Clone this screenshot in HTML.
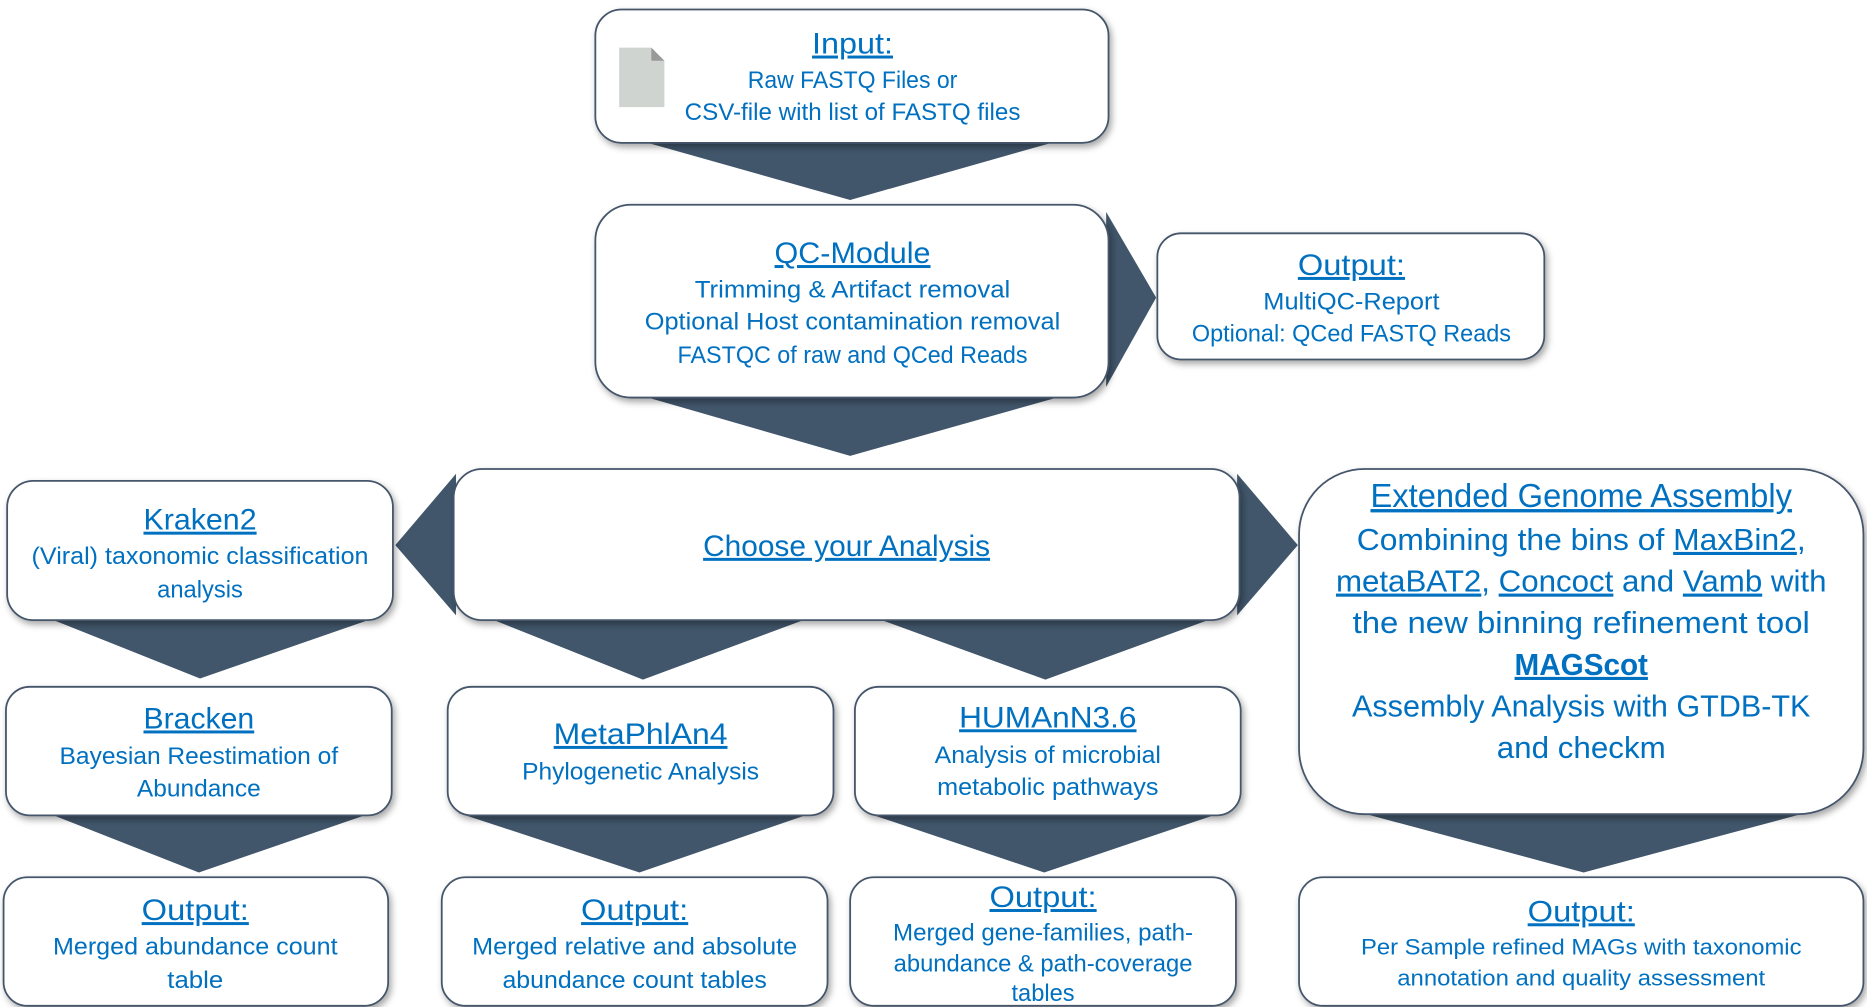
<!DOCTYPE html>
<html><head><meta charset="utf-8"><style>
html,body{margin:0;padding:0;background:#fff;}
svg{display:block}
text{font-family:"Liberation Sans",sans-serif;fill:#0070C0;text-anchor:middle}
.h{font-size:25px;text-decoration:underline}
.b{font-size:20px}
</style></head><body>
<svg width="1867" height="1007" viewBox="0 0 1568 846" preserveAspectRatio="none" xmlns="http://www.w3.org/2000/svg">
<defs>
<filter id="s" x="-10%" y="-10%" width="120%" height="130%"><feDropShadow dx="2" dy="3" stdDeviation="3" flood-color="#000" flood-opacity="0.35"/></filter>
</defs>
<g fill="#41566B">
<polygon points="537,118 890,118 714,168"/>
<polygon points="929,178 971,250 929,325"/>
<polygon points="537,332 895,332 714,383"/>
<polygon points="383,398 332,458 383,517"/>
<polygon points="1039,398 1090,458 1039,517"/>
<polygon points="40,519 315,519 168,570"/>
<polygon points="410,519 680,519 540,571"/>
<polygon points="735,519 1020,519 878,571"/>
<polygon points="1140,682 1520,682 1330,733"/>
<polygon points="40,683 312,683 167,733"/>
<polygon points="385,683 682,683 537,733"/>
<polygon points="728,683 1025,683 877,733"/>
</g>
<g fill="#fff" stroke="#44546A" stroke-width="1.5" filter="url(#s)">
<rect x="500" y="8" width="431" height="112" rx="22"/>
<rect x="500" y="172" width="431" height="162" rx="30"/>
<rect x="972" y="196" width="325" height="106" rx="20"/>
<rect x="381" y="394" width="660" height="127" rx="24"/>
<rect x="6" y="404" width="324" height="117" rx="22"/>
<rect x="1091" y="394" width="474" height="290" rx="55"/>
<rect x="5" y="577" width="324" height="108" rx="20"/>
<rect x="376" y="577" width="324" height="108" rx="20"/>
<rect x="718" y="577" width="324" height="108" rx="20"/>
<rect x="3" y="737" width="323" height="108" rx="20"/>
<rect x="371" y="737" width="324" height="108" rx="20"/>
<rect x="714" y="737" width="324" height="108" rx="20"/>
<rect x="1091" y="737" width="474" height="108" rx="20"/>
</g>
<polygon points="520,40 547,40 558,51 558,90 520,90" fill="#D0D4D0"/>
<polygon points="547,40 558,51 547,51" fill="#999"/>

<text class="h" x="716" y="45" textLength="68" lengthAdjust="spacingAndGlyphs">Input:</text>
<text class="b" x="716" y="74" textLength="176" lengthAdjust="spacingAndGlyphs">Raw FASTQ Files or</text>
<text class="b" x="716" y="101" textLength="282" lengthAdjust="spacingAndGlyphs">CSV-file with list of FASTQ files</text>

<text class="h" x="716" y="221" textLength="131" lengthAdjust="spacingAndGlyphs">QC-Module</text>
<text class="b" x="716" y="250" textLength="265" lengthAdjust="spacingAndGlyphs">Trimming &amp; Artifact removal</text>
<text class="b" x="716" y="277" textLength="349" lengthAdjust="spacingAndGlyphs">Optional Host contamination removal</text>
<text class="b" x="716" y="305" textLength="294" lengthAdjust="spacingAndGlyphs">FASTQC of raw and QCed Reads</text>

<text class="h" x="1135" y="231" textLength="90" lengthAdjust="spacingAndGlyphs">Output:</text>
<text class="b" x="1135" y="260" textLength="148" lengthAdjust="spacingAndGlyphs">MultiQC-Report</text>
<text class="b" x="1135" y="287" textLength="268" lengthAdjust="spacingAndGlyphs">Optional: QCed FASTQ Reads</text>

<text class="h" x="711" y="467" textLength="241" lengthAdjust="spacingAndGlyphs">Choose your Analysis</text>

<text class="h" x="168" y="445" textLength="95" lengthAdjust="spacingAndGlyphs">Kraken2</text>
<text class="b" x="168" y="474" textLength="283" lengthAdjust="spacingAndGlyphs">(Viral) taxonomic classification</text>
<text class="b" x="168" y="502" textLength="72" lengthAdjust="spacingAndGlyphs">analysis</text>

<text class="h" x="1328" y="426" textLength="354" lengthAdjust="spacingAndGlyphs" style="font-size:28px">Extended Genome Assembly</text>
<text class="b" x="1328" y="462" textLength="377" lengthAdjust="spacingAndGlyphs" style="font-size:26px">Combining the bins of <tspan text-decoration="underline">MaxBin2</tspan>,</text>
<text class="b" x="1328" y="497" textLength="412" lengthAdjust="spacingAndGlyphs" style="font-size:26px"><tspan text-decoration="underline">metaBAT2</tspan>, <tspan text-decoration="underline">Concoct</tspan> and <tspan text-decoration="underline">Vamb</tspan> with</text>
<text class="b" x="1328" y="532" textLength="384" lengthAdjust="spacingAndGlyphs" style="font-size:26px">the new binning refinement tool</text>
<text class="b" x="1328" y="567" textLength="112" lengthAdjust="spacingAndGlyphs" style="font-size:26px;font-weight:bold;text-decoration:underline">MAGScot</text>
<text class="b" x="1328" y="602" textLength="385" lengthAdjust="spacingAndGlyphs" style="font-size:26px">Assembly Analysis with GTDB-TK</text>
<text class="b" x="1328" y="637" textLength="142" lengthAdjust="spacingAndGlyphs" style="font-size:26px">and checkm</text>

<text class="h" x="167" y="612" textLength="93" lengthAdjust="spacingAndGlyphs">Bracken</text>
<text class="b" x="167" y="642" textLength="234" lengthAdjust="spacingAndGlyphs">Bayesian Reestimation of</text>
<text class="b" x="167" y="669" textLength="104" lengthAdjust="spacingAndGlyphs">Abundance</text>

<text class="h" x="538" y="625" textLength="146" lengthAdjust="spacingAndGlyphs">MetaPhlAn4</text>
<text class="b" x="538" y="655" textLength="199" lengthAdjust="spacingAndGlyphs">Phylogenetic Analysis</text>

<text class="h" x="880" y="611" textLength="149" lengthAdjust="spacingAndGlyphs">HUMAnN3.6</text>
<text class="b" x="880" y="641" textLength="190" lengthAdjust="spacingAndGlyphs">Analysis of microbial</text>
<text class="b" x="880" y="668" textLength="186" lengthAdjust="spacingAndGlyphs">metabolic pathways</text>

<text class="h" x="164" y="773" textLength="90" lengthAdjust="spacingAndGlyphs">Output:</text>
<text class="b" x="164" y="802" textLength="239" lengthAdjust="spacingAndGlyphs">Merged abundance count</text>
<text class="b" x="164" y="830" textLength="47" lengthAdjust="spacingAndGlyphs">table</text>

<text class="h" x="533" y="773" textLength="90" lengthAdjust="spacingAndGlyphs">Output:</text>
<text class="b" x="533" y="802" textLength="273" lengthAdjust="spacingAndGlyphs">Merged relative and absolute</text>
<text class="b" x="533" y="830" textLength="222" lengthAdjust="spacingAndGlyphs">abundance count tables</text>

<text class="h" x="876" y="762" textLength="90" lengthAdjust="spacingAndGlyphs">Output:</text>
<text class="b" x="876" y="790" textLength="252" lengthAdjust="spacingAndGlyphs">Merged gene-families, path-</text>
<text class="b" x="876" y="816" textLength="251" lengthAdjust="spacingAndGlyphs">abundance &amp; path-coverage</text>
<text class="b" x="876" y="841" textLength="53" lengthAdjust="spacingAndGlyphs">tables</text>

<text class="h" x="1328" y="774" textLength="90" lengthAdjust="spacingAndGlyphs">Output:</text>
<text class="b" x="1328" y="802" textLength="370" lengthAdjust="spacingAndGlyphs" style="font-size:19px">Per Sample refined MAGs with taxonomic</text>
<text class="b" x="1328" y="828" textLength="309" lengthAdjust="spacingAndGlyphs" style="font-size:19px">annotation and quality assessment</text>
</svg>
</body></html>
